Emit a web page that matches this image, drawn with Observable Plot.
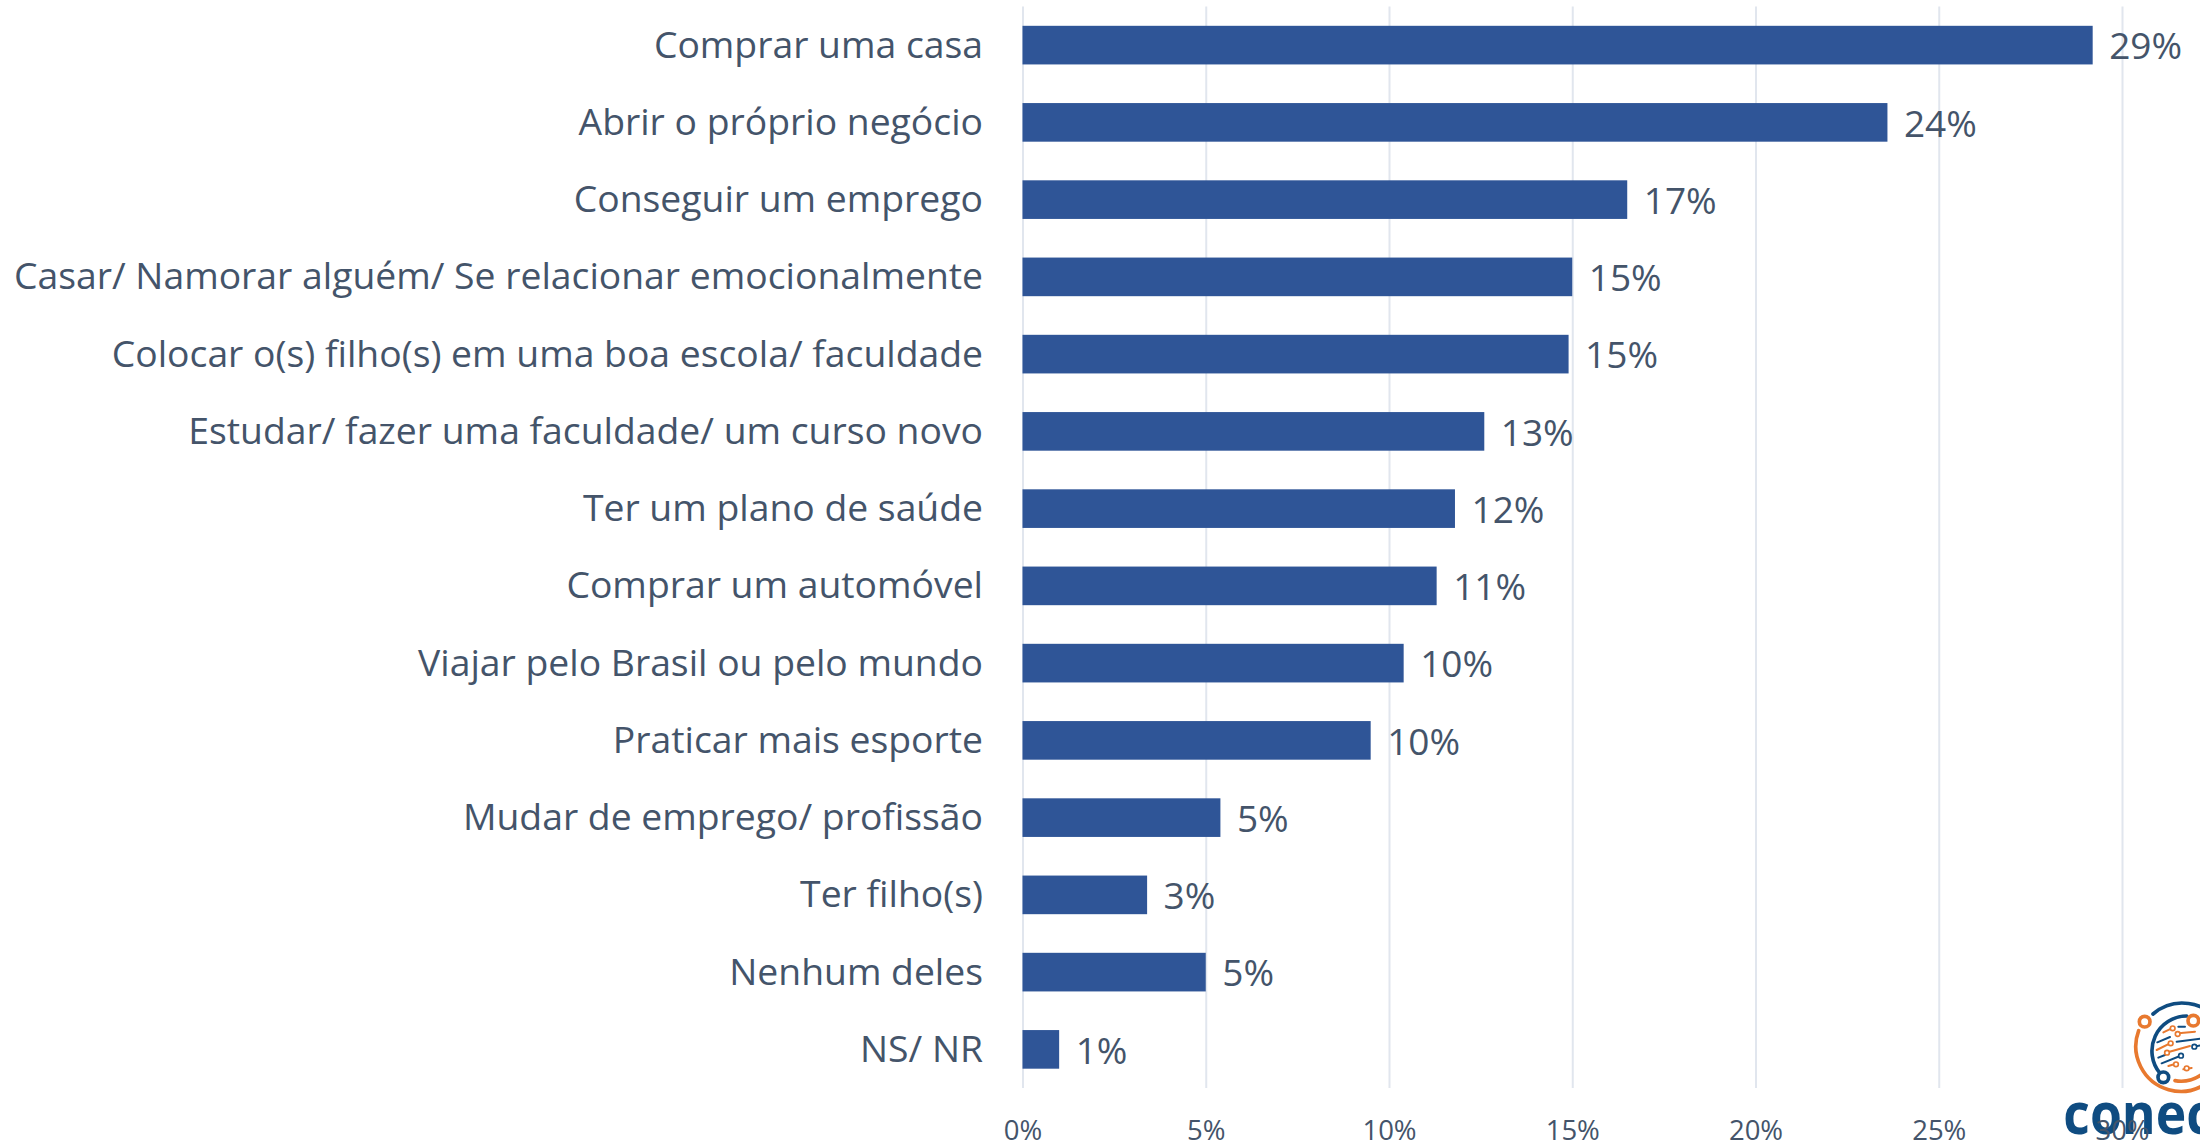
<!DOCTYPE html>
<html><head><meta charset="utf-8">
<style>
html,body{margin:0;padding:0;background:#fff;overflow:hidden}
#wrap{position:relative;width:2200px;height:1142px;overflow:hidden}
#logo{position:absolute;left:2040px;top:990px}
#chart{position:absolute;left:0;top:0}
</style>
<script src="https://cdn.jsdelivr.net/npm/d3@7"></script>
<script src="https://cdn.jsdelivr.net/npm/@observablehq/plot@0.6"></script>
</head><body>
<div id="wrap">
<svg id="logo" width="160" height="152" viewBox="0 0 480 456" fill="none" stroke-linecap="round">
<g stroke-width="11">
<path d="M339 72 A135 135 0 0 1 540 100" stroke="#0F4C81"/>
<path d="M296 122 A135 135 0 1 0 555 195" stroke="#E8792F"/>
<path d="M440 78 A105 105 0 0 0 360 250" stroke="#0F4C81"/>
<path d="M405 272 Q450 280 490 250" stroke="#E8792F"/>
<circle cx="314" cy="95" r="16" fill="#fff" stroke="#E8792F"/>
<circle cx="460" cy="92" r="16" fill="#fff" stroke="#E8792F"/>
<circle cx="370" cy="262" r="16" fill="#fff" stroke="#0F4C81"/>
</g>
<g stroke-width="6">
<path d="M370 127L395 115M415 130L465 125M350 180L390 160M378 188L450 168M385 228L405 222M430 238L455 234" stroke="#E8792F"/>
<path d="M415 110L435 110M352 157L390 141M410 155L490 145M355 203L375 195M365 220L420 198M460 170L490 165" stroke="#0F4C81"/>
<g fill="#fff" stroke-width="5">
<circle cx="398" cy="115" r="7" stroke="#E8792F"/><circle cx="413" cy="132" r="7" stroke="#E8792F"/>
<circle cx="392" cy="160" r="7" stroke="#E8792F"/><circle cx="381" cy="188" r="7" stroke="#E8792F"/>
<circle cx="408" cy="223" r="7" stroke="#E8792F"/><circle cx="440" cy="235" r="7" stroke="#E8792F"/>
<circle cx="463" cy="170" r="7" stroke="#0F4C81"/><circle cx="423" cy="197" r="7" stroke="#0F4C81"/>
</g>
</g>
<text transform="translate(70 432) scale(1 1.1)" font-family="'Open Sans'" font-weight="700" font-size="155" fill="#0F4C81">conec</text>
</svg>
<div id="chart"></div>
</div>
<script>
const categories = ["Comprar uma casa","Abrir o próprio negócio","Conseguir um emprego","Casar/ Namorar alguém/ Se relacionar emocionalmente","Colocar o(s) filho(s) em uma boa escola/ faculdade","Estudar/ fazer uma faculdade/ um curso novo","Ter um plano de saúde","Comprar um automóvel","Viajar pelo Brasil ou pelo mundo","Praticar mais esporte","Mudar de emprego/ profissão","Ter filho(s)","Nenhum deles","NS/ NR"];
const values = [29.2,23.6,16.5,15.0,14.9,12.6,11.8,11.3,10.4,9.5,5.4,3.4,5.0,1.0];
const valueLabels = ["29%","24%","17%","15%","15%","13%","12%","11%","10%","10%","5%","3%","5%","1%"];
const xTicks = [0,5,10,15,20,25,30];
const rows = categories.map((c,i)=>({c,v:values[i],l:valueLabels[i]}));
const ink = "#44546A";
const plot = Plot.plot({
  width:2200, height:1142,
  marginLeft:1022.5, marginRight:78, marginTop:6.5, marginBottom:54,
  style:{fontFamily:"'Open Sans'",background:"transparent",overflow:"visible"},
  x:{domain:[0,30],range:[1022.5,2122]},
  y:{domain:categories,paddingInner:0.5,paddingOuter:0.25,align:0.5,round:false},
  marks:[
    Plot.ruleX(xTicks,{stroke:"#E1E6EE",strokeWidth:2}),
    Plot.barX(rows,{x:"v",y:"c",fill:"#2F5597"}),
    Plot.text(rows,{x:"v",y:"c",text:"l",textAnchor:"start",dx:16,dy:2,fontSize:37,fill:ink}),
    Plot.axisY({tickSize:0,tickPadding:40,fontSize:37.3,color:ink,label:null,textOverflow:null,lineWidth:Infinity,marginLeft:1022.5}),
    Plot.axisX({ticks:xTicks,tickSize:0,tickPadding:32,fontSize:27.5,color:ink,label:null,tickFormat:d=>d+"%"})
  ]
});
document.getElementById("chart").appendChild(plot);
</script>
</body></html>
